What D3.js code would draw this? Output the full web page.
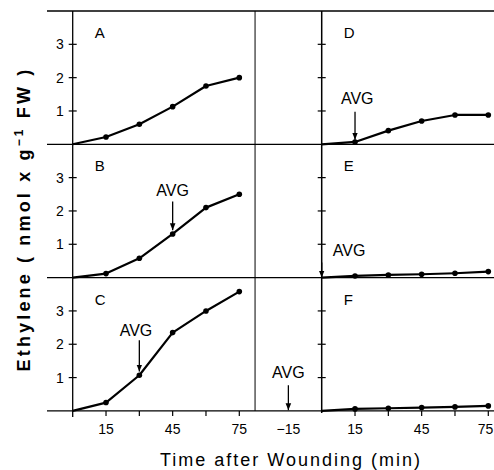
<!DOCTYPE html>
<html><head><meta charset="utf-8">
<script src="https://cdn.jsdelivr.net/npm/d3@7"></script>
<style>body{margin:0;background:#fff}svg{display:block}</style>
</head><body>
<script>
// ---- data ----
const times = [0, 15, 30, 45, 60, 75];
const panelA = [0, 0.22, 0.6, 1.13, 1.75, 2.0];
const panelB = [0, 0.12, 0.58, 1.31, 2.1, 2.5];
const panelC = [0, 0.25, 1.07, 2.35, 3.0, 3.58];
const panelD = [0, 0.07, 0.41, 0.7, 0.88, 0.88];
const panelE = [0, 0.05, 0.08, 0.1, 0.13, 0.18];
const panelF = [0, 0.06, 0.08, 0.1, 0.12, 0.15];
const panelLetters = ["A", "B", "C", "D", "E", "F"];
const yTickValues = [1, 2, 3];
const xTickValues = [15, 30, 45, 60, 75];
const xTickLabels = ["15", "", "45", "", "75"];
const middleTickLabel = ["-15"];
// arrows: [column, row, time, value top, value bottom, label time, label value, anchor]
const arrows = [
  ["L", 1, 45, 2.28, 1.42, 45, 2.45, "middle"],
  ["L", 2, 30, 2.12, 1.18, 28.5, 2.24, "middle"],
  ["R", 0, 15, 0.98, 0.14, 16, 1.21, "middle"],
  ["R", 1, 0, 0.45, 0.0, 5, 0.66, "start"],
  ["R", 2, -15, 0.77, 0.02, -15, 1.0, "middle"]
];

// ---- layout ----
const W = 494, H = 470;
const svg = d3.select("body").append("svg").attr("width", W).attr("height", H);
const xL = d3.scaleLinear().domain([0, 75]).range([72.7, 239.3]);
const xR = d3.scaleLinear().domain([0, 75]).range([321.7, 488.3]);
const baselines = [144.3, 277.6, 410.9];
const yRow = baselines.map(b => d3.scaleLinear().domain([0, 4]).range([b, b - 133.3]));
const font = "'Liberation Sans', Arial, sans-serif";

const defs = svg.append("defs");
defs.append("marker").attr("id", "ah").attr("viewBox", "0 0 10 10")
  .attr("refX", 10).attr("refY", 5).attr("markerWidth", 7).attr("markerHeight", 9)
  .attr("markerUnits", "userSpaceOnUse").attr("orient", "auto")
  .append("path").attr("d", "M0,1 L10,5 L0,9 Z").attr("fill", "#000");

const g = svg.append("g");
const topY = yRow[0](4);

// horizontal lines (top and baselines)
[topY, ...baselines].forEach(y => {
  g.append("line").attr("x1", 47).attr("x2", W).attr("y1", y).attr("y2", y)
    .attr("stroke", "#000").attr("stroke-width", 1.3);
});
// vertical axes and divider
g.append("line").attr("x1", xL(0)).attr("x2", xL(0)).attr("y1", topY).attr("y2", baselines[2] + 6).attr("stroke", "#000").attr("stroke-width", 1.3);
g.append("line").attr("x1", xR(0)).attr("x2", xR(0)).attr("y1", topY).attr("y2", baselines[2] + 2).attr("stroke", "#000").attr("stroke-width", 1.5);
g.append("line").attr("x1", xR(-30)).attr("x2", xR(-30)).attr("y1", topY).attr("y2", baselines[2]).attr("stroke", "#000").attr("stroke-width", 1);

// y ticks (crossing), labels on left
yRow.forEach(ys => {
  yTickValues.forEach(v => {
    [xL(0), xR(0)].forEach(x => {
      g.append("line").attr("x1", x - 4).attr("x2", x + 4).attr("y1", ys(v)).attr("y2", ys(v)).attr("stroke", "#000").attr("stroke-width", 1.2);
    });
    g.append("text").attr("x", xL(0) - 9).attr("y", ys(v)).attr("dy", "0.36em")
      .attr("text-anchor", "end").attr("font-family", font).attr("font-size", 14).text(v);
  });
});

// x ticks bottom
[xL, xR].forEach(xs => {
  xTickValues.forEach((t, i) => {
    g.append("line").attr("x1", xs(t)).attr("x2", xs(t)).attr("y1", baselines[2]).attr("y2", baselines[2] + 5).attr("stroke", "#000").attr("stroke-width", 1.2);
    if (xTickLabels[i]) g.append("text").attr("x", Math.min(xs(t), W - 8.5)).attr("y", baselines[2] + 23)
      .attr("text-anchor", "middle").attr("font-family", font).attr("font-size", 14).text(xTickLabels[i]);
  });
});
g.append("text").attr("x", xR(-15)).attr("y", baselines[2] + 23).attr("text-anchor", "middle")
  .attr("font-family", font).attr("font-size", 14).text(middleTickLabel[0].replace("-", "\u2212"));

// panels data
const panels = [
  [xL, 0, panelA], [xL, 1, panelB], [xL, 2, panelC],
  [xR, 0, panelD], [xR, 1, panelE], [xR, 2, panelF]
];
panels.forEach(([xs, r, vals], i) => {
  const ys = yRow[r];
  const line = d3.line().x((d, j) => xs(times[j])).y(d => ys(d));
  g.append("path").attr("d", line(vals)).attr("fill", "none").attr("stroke", "#000").attr("stroke-width", 2.2).attr("stroke-linejoin", "round");
  g.selectAll(null).data(vals.slice(1)).enter().append("circle")
    .attr("cx", (d, j) => xs(times[j + 1])).attr("cy", d => ys(d)).attr("r", 2.8).attr("fill", "#000");
  g.append("text").attr("x", xs(0) + 22).attr("y", ys(4) + 27).attr("font-family", font).attr("font-size", 15).text(panelLetters[i]);
});

// arrows
arrows.forEach(([col, r, t, v1, v2, lt, lv, anchor]) => {
  const xs = col === "L" ? xL : xR, ys = yRow[r];
  g.append("line").attr("x1", xs(t)).attr("x2", xs(t)).attr("y1", ys(v1)).attr("y2", ys(v2))
    .attr("stroke", "#000").attr("stroke-width", 1.3).attr("marker-end", "url(#ah)");
  g.append("text").attr("x", xs(lt)).attr("y", ys(lv)).attr("text-anchor", anchor)
    .attr("font-family", font).attr("font-size", 16).text("AVG");
});

// axis titles
const yt = svg.append("text").attr("transform", "translate(30,219) rotate(-90)").attr("text-anchor", "middle")
  .attr("font-family", font).attr("font-weight", "bold").attr("font-size", 18);
yt.append("tspan").text("Ethylene ( nmol x g");
yt.append("tspan").attr("dy", -7).attr("font-size", 12).text("\u22121");
yt.append("tspan").attr("dy", 7).text("  FW )");
const len = yt.node().getComputedTextLength();
const nChars = "Ethylene ( nmol x g-1  FW )".length;
yt.attr("letter-spacing", Math.max(0, (308 - len) / nChars));

svg.append("text").attr("x", 290).attr("y", 466).attr("text-anchor", "middle")
  .attr("font-family", font).attr("font-size", 18)
  .attr("textLength", 260).attr("lengthAdjust", "spacing").text("Time after Wounding (min)");
</script>
</body></html>
